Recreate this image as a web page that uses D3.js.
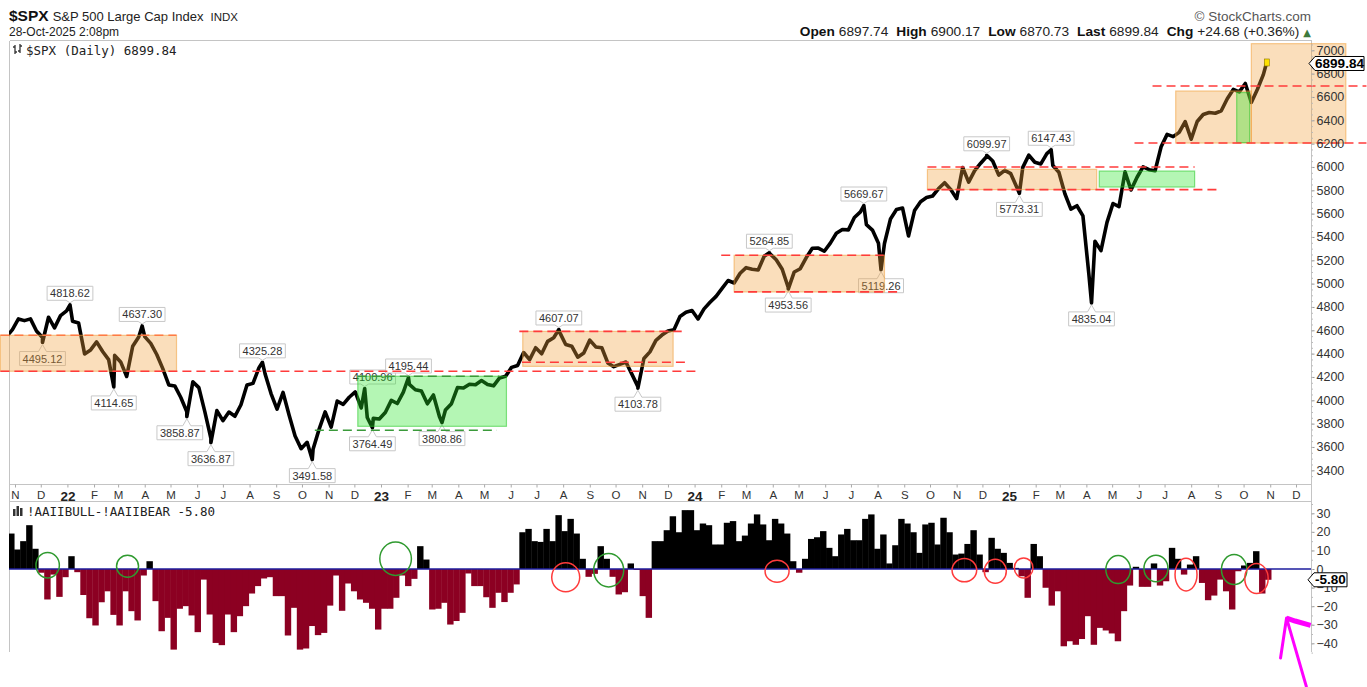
<!DOCTYPE html>
<html>
<head>
<meta charset="utf-8">
<title>$SPX S&amp;P 500 Large Cap Index</title>
<script src="https://cdn.jsdelivr.net/npm/d3@7"></script>
<style>
  body { margin: 0; background: #fff; }
  svg { display: block; }
  text { font-family: "Liberation Sans", Arial, sans-serif; fill: #222; }
  .mono { font-family: "DejaVu Sans Mono", monospace; }
</style>
</head>
<body>
<svg id="chart" width="1367" height="687"></svg>
<script>
// weekly closes, one per Friday, starting 2021-10-22
const firstWeek = "2021-10-22";
const closes2021 = [4544.9, 4605.4, 4697.5, 4682.9, 4698.0, 4594.6, 4538.4, 4712.0, 4620.6, 4725.8, 4766.2];
const closes2022 = [4677.0, 4662.9, 4397.9, 4431.9, 4500.5, 4418.6, 4348.9, 4384.7, 4328.9, 4204.3, 4463.1, 4543.1,
  4545.9, 4488.3, 4392.6, 4271.8, 4131.9, 4123.3, 4023.9, 3901.4, 4158.2, 4108.5, 3900.9, 3674.8, 3911.7, 3825.3,
  3899.4, 3863.2, 3961.6, 4130.3, 4145.2, 4280.2, 4228.5, 4057.7, 3924.3, 4067.4, 3873.3, 3693.2, 3585.6, 3639.7,
  3583.1, 3752.8, 3901.1, 3770.6, 3992.9, 3965.3, 4026.1, 4071.7, 3934.4, 3852.4, 3844.8, 3839.5];
const closes2023 = [3895.1, 3999.1, 3972.6, 4070.6, 4136.5, 4090.5, 4079.1, 3970.0, 4045.6, 3861.6, 3916.6, 3971.0,
  4109.3, 4105.0, 4137.6, 4133.5, 4169.5, 4136.3, 4124.1, 4192.0, 4205.5, 4282.4, 4298.9, 4409.6, 4348.3, 4450.4,
  4399.0, 4505.4, 4536.3, 4582.2, 4478.0, 4464.1, 4369.7, 4405.7, 4515.8, 4457.5, 4450.3, 4320.1, 4288.1, 4308.5,
  4327.8, 4224.2, 4117.4, 4358.3, 4415.2, 4514.0, 4559.3, 4594.6, 4604.4, 4719.2, 4754.6, 4769.8];
const closes2024 = [4697.2, 4783.8, 4839.8, 4891.0, 4958.6, 5026.6, 5005.6, 5088.8, 5137.1, 5123.7, 5117.1, 5234.2,
  5254.4, 5204.3, 5123.4, 4967.2, 5100.0, 5127.8, 5222.7, 5303.3, 5304.7, 5277.5, 5347.0, 5431.6, 5464.6, 5460.5,
  5567.2, 5615.4, 5505.0, 5459.1, 5346.6, 5344.2, 5554.3, 5634.6, 5648.4, 5408.4, 5626.0, 5702.6, 5738.2, 5751.1,
  5815.0, 5864.7, 5808.1, 5728.8, 5995.5, 5870.6, 5969.3, 6032.4, 6090.3, 6051.1, 5930.9, 5970.8];
const closes2025 = [5942.5, 5827.0, 5996.7, 6101.2, 6040.5, 6026.0, 6114.6, 6013.1, 5954.5, 5770.2, 5638.9, 5667.6,
  5580.9, 5074.1, 5363.4, 5282.7, 5525.2, 5686.7, 5659.9, 5958.4, 5802.8, 5911.7, 6000.4, 5977.0, 5967.8, 6173.1,
  6279.4, 6259.8, 6296.8, 6388.6, 6238.0, 6389.5, 6449.8, 6466.9, 6460.3, 6481.5, 6584.3, 6664.4, 6643.7, 6715.8,
  6552.5, 6664.0, 6791.7];
const lastDate = "2025-10-28";
const lastClose = 6899.84;

// annotated swing highs / lows
const pivotDates = ["2021-12-03", "2022-01-04", "2022-02-24", "2022-03-29", "2022-05-20", "2022-06-17", "2022-08-16",
  "2022-10-13", "2022-12-13", "2022-12-22", "2023-02-02", "2023-03-13", "2023-07-27", "2023-10-27", "2024-03-28",
  "2024-04-19", "2024-07-16", "2024-08-05", "2024-12-06", "2025-01-13", "2025-02-19", "2025-04-07"];
const pivotValues = [4495.12, 4818.62, 4114.65, 4637.30, 3858.87, 3636.87, 4325.28, 3491.58, 4100.96, 3764.49,
  4195.44, 3808.86, 4607.07, 4103.78, 5264.85, 4953.56, 5669.67, 5119.26, 6099.97, 5773.31, 6147.43, 4835.04];
const pivotSides = ["low", "high", "low", "high", "low", "low", "high", "low", "high", "low", "high", "low", "high",
  "low", "high", "low", "high", "low", "high", "low", "high", "low"];

// shaded ranges
const boxStart = ["2021-10-15", "2022-12-05", "2023-06-15", "2024-02-16", "2024-09-28", "2025-04-16", "2025-07-14", "2025-09-23", "2025-10-10"];
const boxEnd = ["2022-05-08", "2023-05-27", "2023-12-07", "2024-08-09", "2025-04-13", "2025-08-05", "2025-10-10", "2025-10-08", "2026-01-28"];
const boxLow = [4249, 3777, 4291, 4929, 5806, 5828, 6205, 6209, 6205];
const boxHigh = [4557, 4206, 4591, 5243, 5980, 5965, 6651, 6638, 7057];
const boxKind = ["range", "base", "range", "range", "range", "base", "range", "base", "range"];

// dashed levels
const levelValue = [4249, 4557, 4206, 3743, 4591, 4326, 5243, 4929, 6000, 5806, 6694, 6205];
const levelStart = ["2021-10-15", "2021-10-15", "2022-12-05", "2022-10-16", "2023-06-11", "2023-06-14", "2024-02-01",
  "2024-02-16", "2024-09-28", "2024-09-28", "2025-06-17", "2025-05-27"];
const levelEnd = ["2024-01-05", "2022-05-08", "2023-05-19", "2023-05-16", "2023-12-17", "2023-12-24", "2024-08-08",
  "2024-08-29", "2025-08-05", "2025-09-01", "2026-02-21", "2026-02-21"];
const levelKind = ["red", "edge", "green", "green", "red", "red", "red", "red", "red", "red", "red", "red"];

// AAII bull minus bear, weekly, starting 2021-10-24
const sentimentStart = "2021-10-24";
const bullBearSpread = [
  19.1, 10.5, 15.0, 23.6, 10.9, -2.0, -16.4, -3.0, -15.0, -4.4,
  6.9, -1.7, -14.0, -26.5, -30.4, -17.9, -12.0, -24.7, -30.4, -12.0,
  -22.7, -27.7, -3.5, 4.2, -17.3, -33.5, -26.3, -43.4, -21.4, -20.0,
  -25.0, -34.0, -5.7, -24.5, -39.8, -41.0, -24.5, -34.0, -25.4, -20.0,
  -13.2, -9.2, -5.1, -4.4, -14.6, -14.6, -35.8, -20.9, -43.4, -42.8,
  -30.7, -35.6, -34.4, -19.7, -3.5, -22.5, -7.8, -12.0, -16.4, -18.2,
  -21.4, -32.6, -21.4, -21.4, -15.5, -3.5, -9.2, -5.3, 12.3, 5.1,
  -21.8, -21.4, -18.2, -29.9, -28.0, -23.6, -2.4, -9.2, -9.2, -15.2,
  -20.9, -12.8, -17.8, -12.8, -8.3, 19.8, 21.6, 15.0, 14.6, 21.6,
  15.0, 29.0, 20.4, 27.0, 19.1, 5.5, -4.2, -2.6, 12.3, 5.5,
  -4.2, -13.7, -12.5, 3.0, -0.5, -14.6, -26.3, 15.0, 15.0, 20.9,
  28.4, 19.8, 31.7, 31.7, 20.9, 24.5, 23.6, 13.2, 13.2, 24.9,
  25.8, 15.0, 18.0, 24.5, 29.4, 24.0, 15.5, 27.0, 24.5, 19.1,
  4.2, -2.0, 5.5, 16.2, 17.1, 20.4, 11.4, 6.9, 18.6, 21.6,
  15.5, 15.5, 27.0, 29.4, 10.9, 18.6, 3.0, 12.8, 27.0, 24.5,
  19.8, 8.7, 24.0, 24.9, 13.2, 27.6, 19.8, 7.8, 8.3, 13.5,
  20.9, 7.8, -1.7, 16.8, 10.9, 8.7, 3.3, 0.6, -3.9, -15.5,
  13.5, 6.9, -10.1, -19.7, -12.0, -41.6, -38.9, -40.8, -37.7, -25.4,
  -40.8, -31.7, -33.1, -34.7, -38.9, -22.7, -8.9, 1.2, -9.6, -9.6,
  3.0, -8.9, -6.6, 11.4, 5.5, -3.0, 2.4, 6.9, -7.5, -16.8,
  -14.3, -5.7, -12.0, -21.8, -1.2, 1.9, 3.3, 9.6, -13.2, -5.8];

// circled crossings on the sentiment panel
const circleDates = ["2021-12-09", "2022-03-12", "2023-01-18", "2023-08-04", "2023-09-23", "2024-04-06", "2024-11-10",
  "2024-12-16", "2025-01-18", "2025-05-08", "2025-06-21", "2025-07-26", "2025-09-20", "2025-10-16"];
const circleValues = [2, 1.5, 5.5, -4.4, -0.7, -1.2, -0.6, -1.2, 0.6, -0.3, 0.3, -3, -0.3, -5.1];
const circleColors = ["green", "green", "green", "red", "green", "red", "red", "red", "red", "green", "green", "red", "green", "red"];
const circleRx = [11.7, 11, 15.8, 14, 15, 12, 12.3, 11, 9.3, 12.3, 12, 11, 12.7, 11.7];
const circleRy = [12.7, 11, 16.7, 14.5, 16.7, 11, 11.7, 12, 10, 14, 13.3, 16.3, 15, 15];

// hand-drawn magenta arrow (sentiment panel coordinates)
const arrowDates = ["2025-12-13", "2025-11-20", "2025-11-13"];
const arrowValues = [-63.2, -26.4, -47.9];
const arrowArmDates = ["2025-11-20", "2025-11-30", "2025-12-18"];
const arrowArmValues = [-26.4, -28.0, -30.4];

const svg = d3.select("#chart");
const parse = d3.timeParse("%Y-%m-%d");
const plotL = 9, plotR = 1311, plotT = 40, plotB = 484, lowT = 501, lowB = 651;

const x = d3.scaleTime().domain([new Date(2021, 10, 1), new Date(2025, 11, 1)]).range([15, 1296]);
const yP = d3.scaleLinear().domain([3400, 7000]).range([470.3, 50.3]);
const yS = d3.scaleLinear().domain([-40, 30]).range([643.3, 513.3]);

const week0 = parse(firstWeek);
const series = [].concat(closes2021, closes2022, closes2023, closes2024, closes2025)
  .map((v, i) => ({ date: d3.timeDay.offset(week0, 7 * i), value: v }));
pivotDates.forEach((d, i) => series.push({ date: parse(d), value: pivotValues[i] }));
series.push({ date: parse(lastDate), value: lastClose });
series.sort((a, b) => a.date - b.date);

const defs = svg.append("defs");
defs.append("clipPath").attr("id", "clipMain").append("rect")
  .attr("x", plotL).attr("y", plotT).attr("width", plotR - plotL).attr("height", plotB - plotT);
defs.append("clipPath").attr("id", "clipLow").append("rect")
  .attr("x", plotL).attr("y", lowT).attr("width", plotR - plotL).attr("height", lowB - lowT);

// frames
const frame = svg.append("g").attr("stroke", "#c4c4c4").attr("stroke-width", 1).attr("shape-rendering", "crispEdges");
[[plotL, plotT, plotR, plotT], [plotL, plotB, plotR, plotB], [plotL, lowT, plotR, lowT],
 [plotL, plotT, plotL, lowB], [plotR, plotT, plotR, lowB]].forEach(s => {
  frame.append("line").attr("x1", s[0] + 0.5).attr("y1", s[1] + 0.5).attr("x2", s[2] + 0.5).attr("y2", s[3] + 0.5);
});

// price line
const main = svg.append("g").attr("clip-path", "url(#clipMain)");
main.append("path").datum(series)
  .attr("d", d3.line().x(d => x(d.date)).y(d => yP(d.value)))
  .attr("fill", "none").attr("stroke", "#000").attr("stroke-width", 3.6)
  .attr("stroke-linejoin", "round").attr("stroke-linecap", "round");

// pivot labels
const labelNudge = { 4100.96: 8, 3858.87: -7 };
const labels = svg.append("g");
pivotDates.forEach((d, i) => {
  const v = pivotValues[i];
  const px = x(parse(d));
  const cx = px + (labelNudge[v] || 0);
  const py = yP(v);
  const hi = pivotSides[i] === "high";
  const g = labels.append("g");
  const path = g.append("path");
  const t = g.append("text").attr("x", cx).attr("text-anchor", "middle")
    .attr("font-size", 11).style("fill", "#333").text(v.toFixed(2));
  const w = t.node().getComputedTextLength() + 6;
  const top = hi ? py - 18.5 : py + 9;
  const bot = top + 14;
  const l = cx - w / 2, r = cx + w / 2;
  let p;
  if (hi) {
    p = `M${l},${top}H${r}V${bot}H${px + 4}L${px},${py - 2}L${px - 4},${bot}H${l}Z`;
  } else {
    p = `M${l},${top}H${px - 4}L${px},${py + 2}L${px + 4},${top}H${r}V${bot}H${l}Z`;
  }
  path.attr("d", p).attr("fill", "#fff").attr("stroke", "#c8c8c8").attr("stroke-width", 1);
  t.attr("y", top + 11);
});

// shaded boxes
const boxes = svg.append("g");
boxStart.forEach((d, i) => {
  const x0 = x(parse(d)), x1 = x(parse(boxEnd[i]));
  const orange = boxKind[i] === "range";
  boxes.append("rect")
    .attr("x", x0).attr("y", yP(boxHigh[i]))
    .attr("width", x1 - x0).attr("height", yP(boxLow[i]) - yP(boxHigh[i]))
    .attr("fill", orange ? "rgb(240,160,60)" : "rgb(40,230,40)")
    .attr("fill-opacity", 0.35)
    .attr("stroke", orange ? "rgba(240,160,60,0.55)" : "rgba(40,200,40,0.55)")
    .attr("stroke-width", 1.2);
});

// dashed levels
const levelColor = { red: "#ff3b3b", edge: "#ff7a45", green: "#3a9a3a" };
const levels = svg.append("g");
levelValue.forEach((v, i) => {
  levels.append("line")
    .attr("x1", x(parse(levelStart[i]))).attr("x2", Math.min(1367, x(parse(levelEnd[i]))))
    .attr("y1", yP(v)).attr("y2", yP(v))
    .attr("stroke", levelColor[levelKind[i]]).attr("stroke-width", 1.6)
    .attr("stroke-dasharray", "9,5");
});

// last bar marker
svg.append("rect")
  .attr("x", x(parse(lastDate)) - 2.5).attr("y", yP(lastClose) - 3)
  .attr("width", 5).attr("height", 7)
  .attr("fill", "#ffe100").attr("stroke", "#8a7400").attr("stroke-width", 0.6);

// right price axis
const axisP = svg.append("g").attr("transform", `translate(${plotR + 0.5},0)`)
  .call(d3.axisRight(yP).tickValues(d3.range(3400, 7001, 200)).tickSize(3).tickPadding(2).tickFormat(d3.format("d")));
axisP.select(".domain").remove();
axisP.selectAll(".tick line").attr("stroke", "#999");
axisP.selectAll("text").attr("font-size", 12.5).attr("font-family", "Liberation Sans, Arial, sans-serif").style("fill", "#333");
svg.append("g").attr("transform", `translate(${plotR + 0.5},0)`)
  .call(d3.axisRight(yP).tickValues(d3.range(3350, 7051, 50)).tickSize(1.5).tickFormat(""))
  .call(g => g.select(".domain").remove())
  .selectAll("line").attr("stroke", "#bbb");

// date axis
const monthLetters = "JFMAMJJASOND";
const axisX = svg.append("g").attr("transform", `translate(0,${plotB + 0.5})`)
  .call(d3.axisBottom(x)
    .tickValues(d3.timeMonth.range(new Date(2021, 10, 1), new Date(2026, 0, 1)))
    .tickSize(3).tickPadding(3.5)
    .tickFormat(d => d.getMonth() === 0 ? d3.timeFormat("%y")(d) : monthLetters[d.getMonth()]));
axisX.select(".domain").remove();
axisX.selectAll(".tick line").attr("stroke", "#aaa");
axisX.selectAll("text")
  .attr("font-family", "Liberation Sans, Arial, sans-serif")
  .attr("font-size", d => d.getMonth() === 0 ? 13.5 : 11.5)
  .attr("font-weight", d => d.getMonth() === 0 ? "bold" : "normal")
  .style("fill", d => d.getMonth() === 0 ? "#222" : "#333");

// sentiment panel
const low = svg.append("g").attr("clip-path", "url(#clipLow)");
const s0 = parse(sentimentStart);
low.selectAll("rect").data(bullBearSpread).enter().append("rect")
  .attr("x", (v, i) => x(d3.timeDay.offset(s0, 7 * i)))
  .attr("width", (v, i) => x(d3.timeDay.offset(s0, 7 * (i + 1))) - x(d3.timeDay.offset(s0, 7 * i)) + 0.4)
  .attr("y", v => v >= 0 ? yS(v) : yS(0))
  .attr("height", v => Math.abs(yS(v) - yS(0)))
  .attr("fill", v => v >= 0 ? "#000" : "#8c0022");
svg.append("line").attr("x1", plotL).attr("x2", plotR).attr("y1", yS(0)).attr("y2", yS(0))
  .attr("stroke", "#1d1d9e").attr("stroke-width", 1.5);

circleDates.forEach((d, i) => {
  svg.append("ellipse")
    .attr("cx", x(parse(d))).attr("cy", yS(circleValues[i]))
    .attr("rx", circleRx[i]).attr("ry", circleRy[i])
    .attr("fill", "none")
    .attr("stroke", circleColors[i] === "red" ? "#ff3b3b" : "#2f9a2f")
    .attr("stroke-width", 1.5);
});

const axisS = svg.append("g").attr("transform", `translate(${plotR + 0.5},0)`)
  .call(d3.axisRight(yS).tickValues(d3.range(-40, 31, 10)).tickSize(3).tickPadding(2));
axisS.select(".domain").remove();
axisS.selectAll(".tick line").attr("stroke", "#999");
axisS.selectAll("text").attr("font-size", 12.5).attr("font-family", "Liberation Sans, Arial, sans-serif").style("fill", "#333");
svg.append("g").attr("transform", `translate(${plotR + 0.5},0)`)
  .call(d3.axisRight(yS).tickValues(d3.range(-45, 36, 5)).tickSize(1.5).tickFormat(""))
  .call(g => g.select(".domain").remove())
  .selectAll("line").attr("stroke", "#bbb");

// magenta arrow
const arrowLine = d3.line().x(d => x(parse(d[0]))).y(d => yS(d[1]));
svg.append("path").datum(arrowDates.map((d, i) => [d, arrowValues[i]]))
  .attr("d", arrowLine).attr("fill", "none").attr("stroke", "#ff00ff")
  .attr("stroke-width", 3).attr("stroke-linejoin", "round").attr("stroke-linecap", "round");
svg.append("path").datum(arrowArmDates.map((d, i) => [d, arrowArmValues[i]]))
  .attr("d", arrowLine).attr("fill", "none").attr("stroke", "#ff00ff")
  .attr("stroke-width", 5).attr("stroke-linejoin", "round");

// value tags
function valueTag(cy, label, x0, x1) {
  svg.append("path")
    .attr("d", `M${x0},${cy}L${x0 + 6},${cy - 7}H${x1}V${cy + 7}H${x0 + 6}Z`)
    .attr("fill", "#fff").attr("stroke", "#000").attr("stroke-width", 1);
  svg.append("text").attr("x", (x0 + 6 + x1) / 2).attr("y", cy + 4.6)
    .attr("text-anchor", "middle").attr("font-size", 13.5).attr("font-weight", "bold")
    .style("fill", "#000").text(label);
}
valueTag(yP(lastClose) + 1.5, "6899.84", 1309, 1364);
valueTag(yS(bullBearSpread[bullBearSpread.length - 1]), "-5.80", 1308, 1347);

// header
const head = svg.append("text").attr("x", 9).attr("y", 21);
head.append("tspan").attr("font-size", 15.5).attr("font-weight", "bold").style("fill", "#111").text("$SPX");
head.append("tspan").attr("font-size", 13).attr("dx", 4).text("S&P 500 Large Cap Index");
head.append("tspan").attr("font-size", 11.5).attr("dx", 7).text("INDX");
svg.append("text").attr("x", 9).attr("y", 36).attr("font-size", 12).text("28-Oct-2025 2:08pm");

svg.append("text").attr("x", 1311).attr("y", 21).attr("text-anchor", "end")
  .attr("font-size", 13.5).style("fill", "#555").text("\u00A9 StockCharts.com");

const ohlcLabels = ["Open", "High", "Low", "Last", "Chg"];
const ohlcValues = ["6897.74", "6900.17", "6870.73", "6899.84", "+24.68 (+0.36%)"];
const ohlc = svg.append("text").attr("x", 1311).attr("y", 36).attr("text-anchor", "end").attr("font-size", 13.7);
ohlcLabels.forEach((l, i) => {
  ohlc.append("tspan").attr("font-weight", "bold").attr("dx", i ? 8 : 0).style("fill", "#111").text(l);
  ohlc.append("tspan").attr("dx", 4).style("fill", "#222").text(ohlcValues[i]);
});
ohlc.append("tspan").attr("dx", 4).attr("font-size", 10).attr("font-family", "DejaVu Sans").style("fill", "#3d7a3d").text("\u25B2");

// panel legends
const icon = svg.append("g").attr("stroke", "#333").attr("stroke-width", 1.3);
icon.append("line").attr("x1", 15).attr("x2", 15).attr("y1", 45).attr("y2", 54);
icon.append("line").attr("x1", 13).attr("x2", 15).attr("y1", 47).attr("y2", 47);
icon.append("line").attr("x1", 15).attr("x2", 17).attr("y1", 52).attr("y2", 52);
icon.append("line").attr("x1", 20).attr("x2", 20).attr("y1", 44).attr("y2", 53);
icon.append("line").attr("x1", 18).attr("x2", 20).attr("y1", 51).attr("y2", 51);
icon.append("line").attr("x1", 20).attr("x2", 22).attr("y1", 46).attr("y2", 46);
svg.append("text").attr("class", "mono").attr("x", 26).attr("y", 54.5).attr("font-size", 12.5)
  .text("$SPX (Daily) 6899.84");

const barsIcon = svg.append("g").attr("fill", "#333");
[[13, 509, 2.5, 7], [16.5, 506, 2.5, 10], [20, 508, 2.5, 8]].forEach(b => {
  barsIcon.append("rect").attr("x", b[0]).attr("y", b[1]).attr("width", b[2]).attr("height", b[3]);
});
svg.append("text").attr("class", "mono").attr("x", 27).attr("y", 515.5).attr("font-size", 12.5)
  .text("!AAIIBULL-!AAIIBEAR -5.80");
</script>
</body>
</html>
